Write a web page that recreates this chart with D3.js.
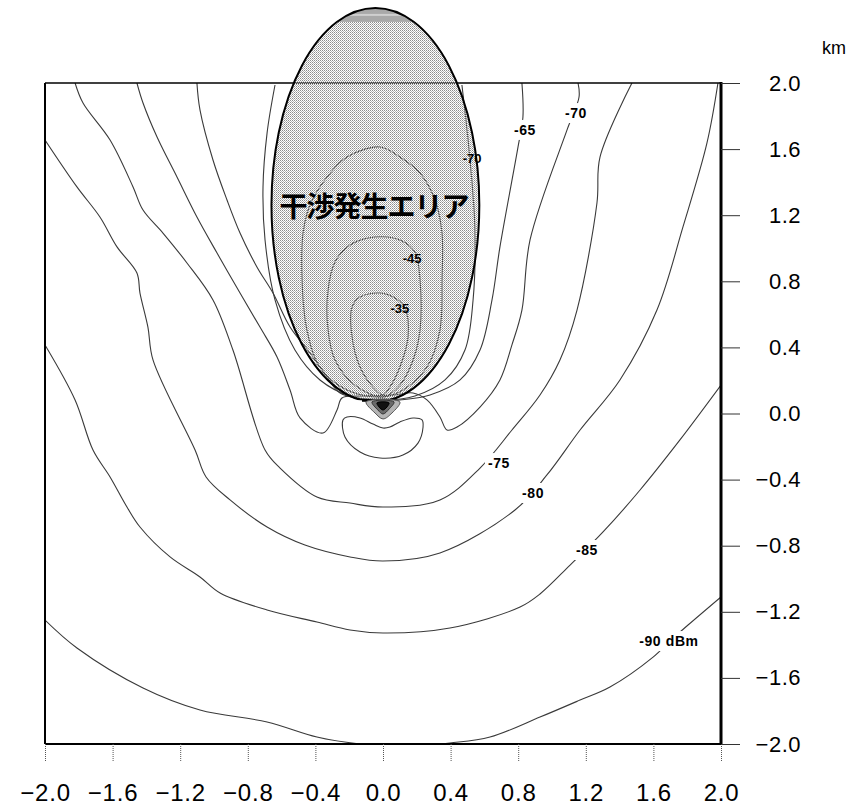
<!DOCTYPE html>
<html>
<head>
<meta charset="utf-8">
<script src="https://cdn.jsdelivr.net/npm/d3@7"></script>
<style>
  html, body { margin: 0; padding: 0; background: #fff; }
  svg { display: block; }
</style>
</head>
<body>
<svg id="chart" width="850" height="809"></svg>
<script>
// Axis ticks (km)
const xTicks = [-2.0, -1.6, -1.2, -0.8, -0.4, 0.0, 0.4, 0.8, 1.2, 1.6, 2.0];
const yTicks = [-2.0, -1.6, -1.2, -0.8, -0.4, 0.0, 0.4, 0.8, 1.2, 1.6, 2.0];

// Received-power contour lines, points as [x km, y km]
const contour90 = [[2.0,-1.11],[1.805,-1.28],[1.70,-1.375],[1.598,-1.474],[1.343,-1.655],[1.166,-1.734],[0.929,-1.837],[0.633,-1.958],[0.396,-1.994],[0.15,-2.015],[-0.136,-2.0],[-0.391,-1.958],[-0.686,-1.867],[-1.083,-1.794],[-1.42,-1.661],[-1.811,-1.419],[-2.0,-1.25]];
const contour85 = [[2.0,0.172],[1.757,-0.16],[1.521,-0.463],[1.302,-0.717],[1.107,-0.917],[0.929,-1.092],[0.811,-1.171],[0.396,-1.298],[0.0,-1.328],[-0.195,-1.31],[-0.391,-1.262],[-0.686,-1.189],[-0.964,-1.086],[-1.083,-0.989],[-1.26,-0.868],[-1.438,-0.687],[-1.515,-0.566],[-1.615,-0.384],[-1.716,-0.221],[-1.822,0.082],[-2.0,0.415]];
const contour80 = [[1.982,2.0],[1.917,1.637],[1.775,1.129],[1.621,0.626],[1.402,0.203],[1.166,-0.1],[0.97,-0.372],[0.781,-0.584],[0.337,-0.844],[0.0,-0.893],[-0.195,-0.868],[-0.462,-0.796],[-0.686,-0.687],[-0.905,-0.523],[-1.047,-0.384],[-1.112,-0.221],[-1.361,0.324],[-1.391,0.523],[-1.438,0.729],[-1.456,0.85],[-1.574,1.008],[-1.675,1.189],[-1.811,1.371],[-2.0,1.655]];
const contour75 = [[1.473,2.0],[1.284,1.552],[1.266,1.274],[1.148,0.626],[1.047,0.324],[0.929,0.112],[0.763,-0.1],[0.574,-0.33],[0.337,-0.523],[0.0,-0.566],[-0.195,-0.542],[-0.391,-0.505],[-0.609,-0.33],[-0.698,-0.221],[-0.888,0.384],[-1.006,0.687],[-1.16,0.911],[-1.302,1.092],[-1.42,1.231],[-1.479,1.371],[-1.615,1.655],[-1.775,1.879],[-1.822,2.0]];
const contour70 = [[-1.456,2.0],[-1.42,1.879],[-1.337,1.673],[-1.219,1.431],[-1.101,1.189],[-0.982,0.971],[-0.846,0.729],[-0.728,0.523],[-0.627,0.342],[-0.55,0.142],[-0.491,-0.027],[-0.355,-0.118],[-0.272,0.021],[-0.243,0.094],[-0.136,0.106],[0.05,0.11],[0.178,0.124],[0.26,0.082],[0.337,-0.021],[0.379,-0.1],[0.438,-0.082],[0.574,0.039],[0.692,0.203],[0.763,0.415],[0.822,0.626],[0.87,1.05],[1.089,1.716],[1.16,1.915],[1.154,2.0]];
const contour70Loop = [[-0.237,-0.039],[-0.225,-0.142],[-0.136,-0.233],[-0.018,-0.269],[0.118,-0.251],[0.207,-0.179],[0.237,-0.082],[0.231,-0.039],[0.178,-0.027],[0.10,-0.051],[0.041,-0.082],[0.0,-0.088],[-0.059,-0.064],[-0.136,-0.027],[-0.213,-0.021]];
const contour65 = [[-1.101,2.0],[-1.083,1.837],[-1.006,1.534],[-0.923,1.292],[-0.846,1.092],[-0.746,0.887],[-0.651,0.729],[-0.55,0.523],[-0.432,0.366],[-0.331,0.221],[-0.254,0.124],[0.0,0.075],[0.10,0.082],[0.278,0.112],[0.456,0.203],[0.574,0.384],[0.645,0.687],[0.692,1.008],[0.799,1.613],[0.828,1.794],[0.822,2.0]];
const contour55 = [[-0.639,1.988],[-0.686,1.697],[-0.71,1.371],[-0.698,1.05],[-0.639,0.687],[-0.521,0.384],[-0.373,0.203],[-0.195,0.106],[0.0,0.082],[0.189,0.106],[0.367,0.203],[0.485,0.384],[0.533,0.687],[0.544,1.11],[0.515,1.534],[0.467,1.988]];
const contour50 = [[0.0,0.10],[-0.213,0.142],[-0.373,0.281],[-0.45,0.505],[-0.479,0.808],[-0.473,1.092],[-0.432,1.262],[-0.331,1.431],[-0.213,1.552],[-0.018,1.613],[0.10,1.552],[0.219,1.455],[0.308,1.292],[0.349,1.092],[0.349,0.808],[0.337,0.505],[0.26,0.281],[0.118,0.142]];
const contour45 = [[0.0,0.10],[-0.166,0.172],[-0.284,0.324],[-0.325,0.505],[-0.325,0.747],[-0.284,0.917],[-0.195,1.02],[-0.047,1.068],[0.10,1.05],[0.189,0.977],[0.219,0.808],[0.219,0.505],[0.178,0.324],[0.10,0.172]];
const contour35 = [[0.0,0.112],[-0.059,0.16],[-0.136,0.281],[-0.183,0.463],[-0.183,0.644],[-0.136,0.705],[-0.018,0.729],[0.071,0.699],[0.13,0.638],[0.148,0.463],[0.10,0.281],[0.041,0.16]];

// Tight contours bunched at the transmitter
const sourceOuter = [[-0.10,0.07],[-0.047,0.003],[0.0,-0.033],[0.053,0.003],[0.10,0.07]];
const sourceMiddle = [[-0.065,0.07],[-0.03,0.021],[0.0,-0.003],[0.036,0.027],[0.065,0.07]];
const sourceCore = [[-0.036,0.064],[0.0,0.021],[0.036,0.064]];

// Contour labels: text, x km, y km
const labelText = ["-65", "-70", "-75", "-80", "-85", "-90 dBm"];
const labelX = [0.84, 1.142, 0.686, 0.888, 1.207, 1.692];
const labelY = [1.716, 1.818, -0.30, -0.481, -0.826, -1.377];
const innerLabelText = ["-70", "-45", "-35"];
const innerLabelX = [0.527, 0.172, 0.10];
const innerLabelY = [1.546, 0.935, 0.638];

// Interference area (ellipse, km) and its caption
const areaName = "干渉発生エリア";
const areaCenter = [-0.045, 1.262];
const areaRadii = [0.615, 1.192];
const areaFloor = 0.08;
const areaCapLevel = 2.37;

const svg = d3.select("#chart");
const x = d3.scaleLinear().domain([-2, 2]).range([45, 721]);
const y = d3.scaleLinear().domain([-2, 2]).range([744, 83]);

const defs = svg.append("defs");
const pat = defs.append("pattern").attr("id", "stipple")
  .attr("width", 2).attr("height", 2).attr("patternUnits", "userSpaceOnUse");
pat.append("rect").attr("x", 0).attr("y", 0).attr("width", 1).attr("height", 1).attr("fill", "#8c8c8c");
pat.append("rect").attr("x", 1).attr("y", 1).attr("width", 1).attr("height", 1).attr("fill", "#b4b4b4");

defs.append("clipPath").attr("id", "plotClip").append("rect")
  .attr("x", x(-2)).attr("y", y(2)).attr("width", x(2) - x(-2)).attr("height", y(-2) - y(2));
defs.append("clipPath").attr("id", "floorClip").append("rect")
  .attr("x", 0).attr("y", 0).attr("width", 850).attr("height", y(areaFloor));

const ecx = x(areaCenter[0]), ecy = y(areaCenter[1]);
const erx = x(areaRadii[0]) - x(0), ery = y(0) - y(areaRadii[1]);
defs.append("clipPath").attr("id", "areaShape").append("ellipse")
  .attr("cx", ecx).attr("cy", ecy).attr("rx", erx).attr("ry", ery);

// Contours
const openLine = d3.line().x(d => x(d[0])).y(d => y(d[1])).curve(d3.curveCatmullRom.alpha(0.5));
const closedLine = d3.line().x(d => x(d[0])).y(d => y(d[1])).curve(d3.curveCatmullRomClosed.alpha(0.5));

const cg = svg.append("g").attr("clip-path", "url(#plotClip)")
  .attr("fill", "none").attr("stroke", "#3a3a3a").attr("stroke-width", 1.1);
[contour90, contour85, contour80, contour75, contour70, contour65, contour55].forEach(c => {
  cg.append("path").attr("d", openLine(c));
});
[contour70Loop, contour50, contour45, contour35].forEach(c => {
  cg.append("path").attr("d", closedLine(c));
});

// Plot frame
const frame = svg.append("g").attr("stroke", "#000").attr("fill", "none");
frame.append("line").attr("x1", x(-2)).attr("x2", x(2)).attr("y1", y(2)).attr("y2", y(2)).attr("stroke-width", 1.6);
frame.append("line").attr("x1", x(-2)).attr("x2", x(-2)).attr("y1", y(2)).attr("y2", y(-2)).attr("stroke-width", 2);
frame.append("line").attr("x1", x(-2)).attr("x2", x(2)).attr("y1", y(-2)).attr("y2", y(-2)).attr("stroke-width", 2);
frame.append("line").attr("x1", x(2)).attr("x2", x(2)).attr("y1", y(2) - 1).attr("y2", y(-2) + 1).attr("stroke-width", 3);

// Labels on outer contours, with a white break in the line
const labelFont = "Liberation Sans Narrow, Liberation Sans, Arial, sans-serif";
const lg = svg.append("g");
labelText.forEach((t, i) => {
  const txt = lg.append("text").attr("x", x(labelX[i])).attr("y", y(labelY[i]))
    .attr("text-anchor", "middle").attr("dominant-baseline", "central")
    .attr("font-family", labelFont).attr("font-size", 14).attr("font-weight", "bold")
    .attr("letter-spacing", 0.6).attr("fill", "#000").text(t);
  const b = txt.node().getBBox();
  lg.insert("rect", "text").attr("x", b.x - 3).attr("y", b.y - 2)
    .attr("width", b.width + 6).attr("height", b.height + 4).attr("fill", "#fff");
});

// Interference area
const ag = svg.append("g").attr("clip-path", "url(#floorClip)");
ag.append("ellipse").attr("cx", ecx).attr("cy", ecy).attr("rx", erx).attr("ry", ery)
  .attr("fill", "url(#stipple)");
ag.append("rect").attr("clip-path", "url(#areaShape)")
  .attr("x", ecx - erx).attr("y", ecy - ery).attr("width", 2 * erx)
  .attr("height", y(areaCapLevel) - (ecy - ery)).attr("fill", "#a9a9a9");
ag.append("rect").attr("clip-path", "url(#areaShape)")
  .attr("x", ecx - erx).attr("y", (ecy - ery + y(areaCapLevel)) / 2 - 1).attr("width", 2 * erx)
  .attr("height", 2).attr("fill", "#cfcfcf");
ag.append("ellipse").attr("cx", ecx).attr("cy", ecy).attr("rx", erx).attr("ry", ery)
  .attr("fill", "none").attr("stroke", "#000").attr("stroke-width", 2);
const fy = (areaFloor - areaCenter[1]) / areaRadii[1];
const halfW = areaRadii[0] * Math.sqrt(Math.max(0, 1 - fy * fy));
svg.append("line").attr("x1", x(areaCenter[0] - halfW)).attr("x2", x(areaCenter[0] + halfW))
  .attr("y1", y(areaFloor)).attr("y2", y(areaFloor)).attr("stroke", "#000").attr("stroke-width", 3);

// Transmitter hot spot
const sg = svg.append("g");
sg.append("path").attr("d", closedLine(sourceOuter)).attr("fill", "#b5b5b5").attr("stroke", "#555").attr("stroke-width", 1);
sg.append("path").attr("d", closedLine(sourceMiddle)).attr("fill", "#6a6a6a").attr("stroke", "#333").attr("stroke-width", 1);
sg.append("path").attr("d", closedLine(sourceCore)).attr("fill", "#111").attr("stroke", "#000").attr("stroke-width", 1);

// Caption inside the area
svg.append("text").attr("x", x(-0.053)).attr("y", y(1.19))
  .attr("text-anchor", "middle")
  .attr("font-family", "Noto Sans CJK JP, sans-serif").attr("font-size", 28)
  .attr("font-weight", "bold").attr("letter-spacing", -1).attr("fill", "#000").text(areaName);

// Labels on the area's inner contours
innerLabelText.forEach((t, i) => {
  svg.append("text").attr("x", x(innerLabelX[i])).attr("y", y(innerLabelY[i]))
    .attr("text-anchor", "middle").attr("dominant-baseline", "central")
    .attr("font-family", labelFont).attr("font-size", 13).attr("font-weight", "bold")
    .attr("fill", "#000").text(t);
});

// Axes
const fmt = d3.format(".1f");
const xAxis = svg.append("g").attr("transform", `translate(0,${y(-2)})`)
  .call(d3.axisBottom(x).tickValues(xTicks).tickSize(18).tickPadding(22).tickFormat(fmt));
xAxis.select(".domain").remove();
xAxis.selectAll(".tick line").attr("stroke", "#555").attr("stroke-dasharray", "1,1");
xAxis.selectAll(".tick text").attr("font-family", "Liberation Sans, Arial, sans-serif")
  .attr("font-size", 24).attr("fill", "#000").attr("letter-spacing", 0.8);

const yAxis = svg.append("g").attr("transform", `translate(${x(2)},0)`)
  .call(d3.axisRight(y).tickValues(yTicks).tickSize(19).tickFormat(fmt));
yAxis.select(".domain").remove();
yAxis.selectAll(".tick line").attr("stroke", "#333");
yAxis.selectAll(".tick text").attr("font-family", "Liberation Sans, Arial, sans-serif")
  .attr("font-size", 22).attr("fill", "#000").attr("text-anchor", "end").attr("x", 80)
  .attr("letter-spacing", 0.5);

svg.append("text").attr("x", 834).attr("y", 54).attr("text-anchor", "middle")
  .attr("font-family", "Liberation Sans, Arial, sans-serif").attr("font-size", 18)
  .attr("fill", "#000").text("km");
</script>
</body>
</html>
